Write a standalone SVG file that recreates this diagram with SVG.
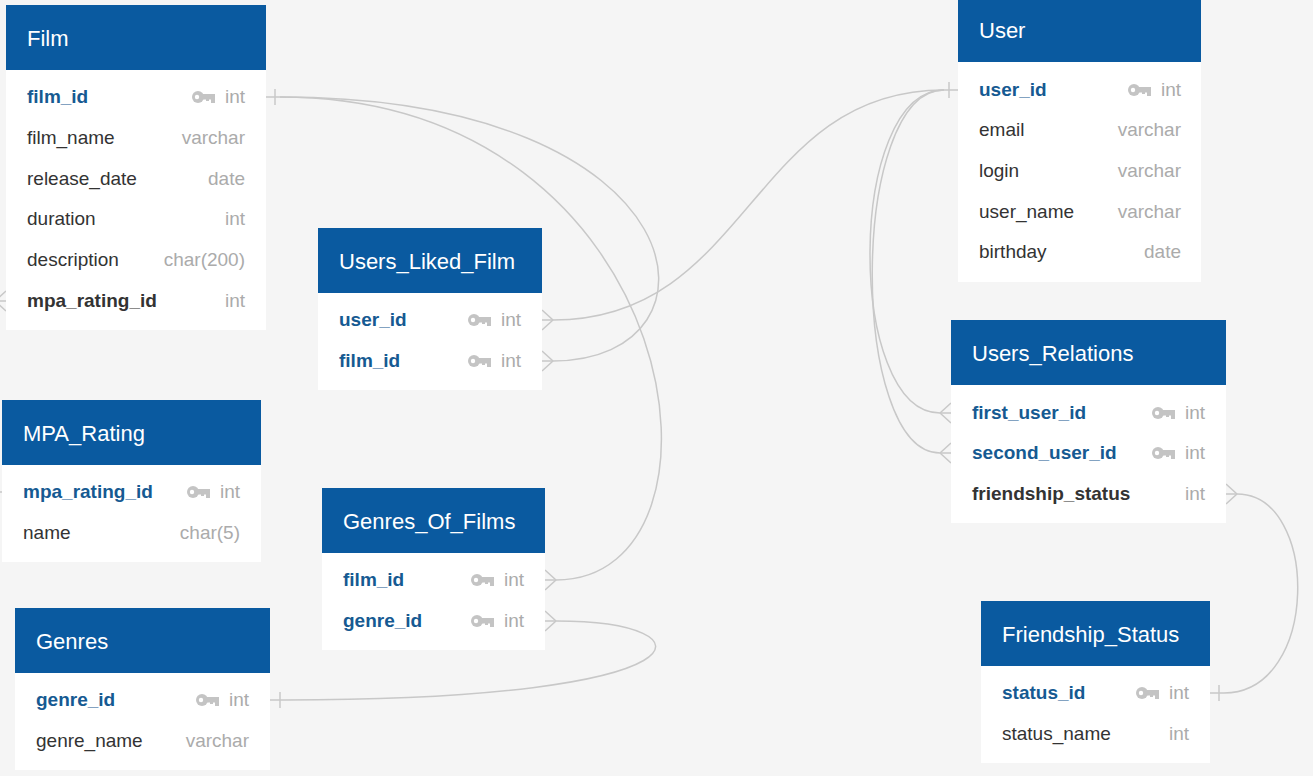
<svg xmlns="http://www.w3.org/2000/svg" xmlns:xlink="http://www.w3.org/1999/xlink" width="1313" height="776" viewBox="0 0 1313 776">
<style>
.hd{fill:#0a5aa0}
.bd{fill:#ffffff}
.ht{font-family:"Liberation Sans",Arial,sans-serif;font-size:22px;fill:#ffffff}
.f{font-family:"Liberation Sans",Arial,sans-serif;font-size:19px;fill:#333333}
.pk{font-weight:bold;fill:#165a92}
.fk{font-weight:bold;fill:#333333}
.ty{font-family:"Liberation Sans",Arial,sans-serif;font-size:19px;fill:#ababab;text-anchor:end}
.ln{fill:none;stroke:#c8c8c8;stroke-width:1.5}
</style>
<defs>
<g id="key">
<circle cx="6" cy="0" r="6" fill="#c4c4c4"/>
<circle cx="5" cy="0" r="2.2" fill="#ffffff"/>
<rect x="10" y="-3" width="13" height="5.5" fill="#c4c4c4"/>
<rect x="19" y="-3" width="4" height="9" fill="#c4c4c4"/>
<rect x="14" y="-3" width="3" height="7" fill="#c4c4c4"/>
</g>
</defs>
<rect x="0" y="0" width="1313" height="776" fill="#f5f5f5"/>

<g id="connectors" class="ln">
<!-- Film.film_id -> Users_Liked_Film.film_id -->
<path d="M266 97 H280 C705 97 735 361 553 361 H542"/>
<path d="M275 89 V105"/>
<path d="M553 361 L542 351 M553 361 L542 371"/>
<!-- Film.film_id -> Genres_Of_Films.film_id -->
<path d="M280 97 C690 97 748 580 556 580 H545"/>
<path d="M556 580 L545 570 M556 580 L545 590"/>
<!-- User.user_id -> Users_Liked_Film.user_id -->
<path d="M958 90 H944 C750 90 750 320 553 320 H542"/>
<path d="M949 82 V98"/>
<path d="M553 320 L542 310 M553 320 L542 330"/>
<!-- User.user_id -> Users_Relations.first_user_id -->
<path d="M944 90 C846 90 846 413 940 413 H951"/>
<path d="M940 413 L951 403 M940 413 L951 423"/>
<!-- User.user_id -> Users_Relations.second_user_id -->
<path d="M944 90 C849 90 849 453 940 453 H951"/>
<path d="M940 453 L951 443 M940 453 L951 463"/>
<!-- Users_Relations.friendship_status -> Friendship_Status.status_id -->
<path d="M1226 494 H1237 C1320 494 1320 693 1224 693 H1210"/>
<path d="M1237 494 L1226 484 M1237 494 L1226 504"/>
<path d="M1219 685 V701"/>
<!-- Genres_Of_Films.genre_id -> Genres.genre_id -->
<path d="M545 621 H556 C718 621 718 700 285 700 H270"/>
<path d="M556 621 L545 611 M556 621 L545 631"/>
<path d="M280 692 V708"/>
<!-- Film.mpa_rating_id -> MPA_Rating.mpa_rating_id -->
<path d="M6 301 H-5 C-80 301 -80 492 -10 492 H2"/>
<path d="M-5 301 L6 291 M-5 301 L6 311"/>
</g>

<g id="Film">
<rect class="hd" x="6" y="5" width="260" height="65"/>
<rect class="bd" x="6" y="70" width="260" height="260"/>
<text class="ht" x="27" y="46">Film</text>
<text class="f pk" x="27" y="103">film_id</text><use xlink:href="#key" x="192" y="97"/><text class="ty" x="245" y="103">int</text>
<text class="f" x="27" y="144">film_name</text><text class="ty" x="245" y="144">varchar</text>
<text class="f" x="27" y="185">release_date</text><text class="ty" x="245" y="185">date</text>
<text class="f" x="27" y="225">duration</text><text class="ty" x="245" y="225">int</text>
<text class="f" x="27" y="266">description</text><text class="ty" x="245" y="266">char(200)</text>
<text class="f fk" x="27" y="307">mpa_rating_id</text><text class="ty" x="245" y="307">int</text>
</g>

<g id="User">
<rect class="hd" x="958" y="-3" width="243" height="65"/>
<rect class="bd" x="958" y="62" width="243" height="220"/>
<text class="ht" x="979" y="38">User</text>
<text class="f pk" x="979" y="96">user_id</text><use xlink:href="#key" x="1128" y="90"/><text class="ty" x="1181" y="96">int</text>
<text class="f" x="979" y="136">email</text><text class="ty" x="1181" y="136">varchar</text>
<text class="f" x="979" y="177">login</text><text class="ty" x="1181" y="177">varchar</text>
<text class="f" x="979" y="218">user_name</text><text class="ty" x="1181" y="218">varchar</text>
<text class="f" x="979" y="258">birthday</text><text class="ty" x="1181" y="258">date</text>
</g>

<g id="Users_Liked_Film">
<rect class="hd" x="318" y="228" width="224" height="65"/>
<rect class="bd" x="318" y="293" width="224" height="97"/>
<text class="ht" x="339" y="269">Users_Liked_Film</text>
<text class="f pk" x="339" y="326">user_id</text><use xlink:href="#key" x="468" y="320"/><text class="ty" x="521" y="326">int</text>
<text class="f pk" x="339" y="367">film_id</text><use xlink:href="#key" x="468" y="361"/><text class="ty" x="521" y="367">int</text>
</g>

<g id="MPA_Rating">
<rect class="hd" x="2" y="400" width="259" height="65"/>
<rect class="bd" x="2" y="465" width="259" height="97"/>
<text class="ht" x="23" y="441">MPA_Rating</text>
<text class="f pk" x="23" y="498">mpa_rating_id</text><use xlink:href="#key" x="187" y="492"/><text class="ty" x="240" y="498">int</text>
<text class="f" x="23" y="539">name</text><text class="ty" x="240" y="539">char(5)</text>
</g>

<g id="Genres_Of_Films">
<rect class="hd" x="322" y="488" width="223" height="65"/>
<rect class="bd" x="322" y="553" width="223" height="97"/>
<text class="ht" x="343" y="529">Genres_Of_Films</text>
<text class="f pk" x="343" y="586">film_id</text><use xlink:href="#key" x="471" y="580"/><text class="ty" x="524" y="586">int</text>
<text class="f pk" x="343" y="627">genre_id</text><use xlink:href="#key" x="471" y="621"/><text class="ty" x="524" y="627">int</text>
</g>

<g id="Genres">
<rect class="hd" x="15" y="608" width="255" height="65"/>
<rect class="bd" x="15" y="673" width="255" height="97"/>
<text class="ht" x="36" y="649">Genres</text>
<text class="f pk" x="36" y="706">genre_id</text><use xlink:href="#key" x="196" y="700"/><text class="ty" x="249" y="706">int</text>
<text class="f" x="36" y="747">genre_name</text><text class="ty" x="249" y="747">varchar</text>
</g>

<g id="Users_Relations">
<rect class="hd" x="951" y="320" width="275" height="65"/>
<rect class="bd" x="951" y="385" width="275" height="138"/>
<text class="ht" x="972" y="361">Users_Relations</text>
<text class="f pk" x="972" y="419">first_user_id</text><use xlink:href="#key" x="1152" y="413"/><text class="ty" x="1205" y="419">int</text>
<text class="f pk" x="972" y="459">second_user_id</text><use xlink:href="#key" x="1152" y="453"/><text class="ty" x="1205" y="459">int</text>
<text class="f fk" x="972" y="500">friendship_status</text><text class="ty" x="1205" y="500">int</text>
</g>

<g id="Friendship_Status">
<rect class="hd" x="981" y="601" width="229" height="65"/>
<rect class="bd" x="981" y="666" width="229" height="97"/>
<text class="ht" x="1002" y="642">Friendship_Status</text>
<text class="f pk" x="1002" y="699">status_id</text><use xlink:href="#key" x="1136" y="693"/><text class="ty" x="1189" y="699">int</text>
<text class="f" x="1002" y="740">status_name</text><text class="ty" x="1189" y="740">int</text>
</g>
</svg>
